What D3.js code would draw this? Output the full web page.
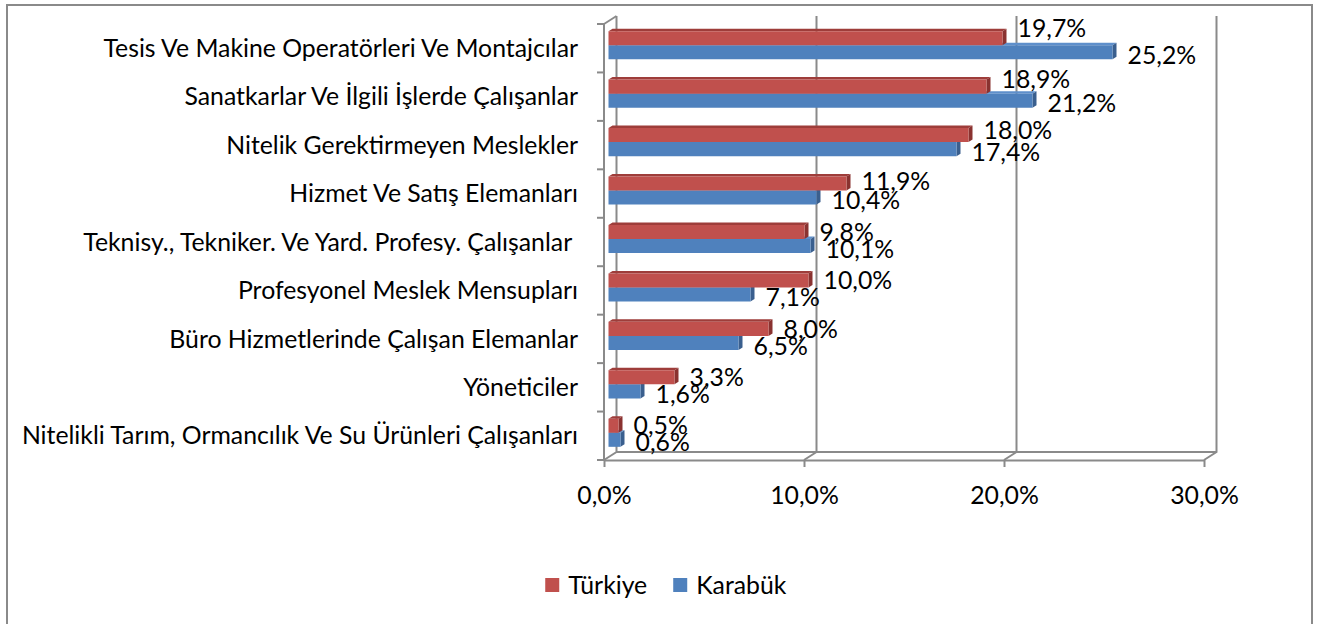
<!DOCTYPE html>
<html>
<head>
<meta charset="utf-8">
<script src="https://cdn.jsdelivr.net/npm/d3@7"></script>
<style>
  body { margin: 0; background: #fff; }
  svg { display: block; font-family: Lato, "Open Sans", sans-serif; }
</style>
</head>
<body>
<div id="chart"></div>
<script>
// categories, top to bottom
var categories = [
  "Tesis Ve Makine Operatörleri Ve Montajcılar",
  "Sanatkarlar Ve İlgili İşlerde Çalışanlar",
  "Nitelik Gerektirmeyen Meslekler",
  "Hizmet Ve Satış Elemanları",
  "Teknisy., Tekniker. Ve Yard. Profesy. Çalışanlar ",
  "Profesyonel Meslek Mensupları",
  "Büro Hizmetlerinde Çalışan Elemanlar",
  "Yöneticiler",
  "Nitelikli Tarım, Ormancılık Ve Su Ürünleri Çalışanları"
];
var series = ["Türkiye", "Karabük"];
var turkiye = [19.7, 18.9, 18.0, 11.9, 9.8, 10.0, 8.0, 3.3, 0.5];
var karabuk = [25.2, 21.2, 17.4, 10.4, 10.1, 7.1, 6.5, 1.6, 0.6];
var xTicks = [0, 10, 20, 30];

var width = 1317, height = 624;
var fontSize = 24.8;
var gridColor = "#8a8a8a";

// colours: front, top, side
var colors = {
  "Türkiye": {front: "#C0504D", top: "#9E3D3A", side: "#8A3230"},
  "Karabük": {front: "#4F81BD", top: "#5E8FCB", side: "#3A5F8E"}
};

// 3d depth of the box and of the bars
var depth = {dx: 12.5, dy: 8};
var barOff = {dx: 4.5, dy: 3};
var barDepth = {dx: 4, dy: 2.5};

var fmt = function(v) { return v.toFixed(1).replace(".", ",") + "%"; };

var svg = d3.select("#chart").append("svg")
    .attr("width", width)
    .attr("height", height);

// outer frame
svg.append("rect")
    .attr("x", 7).attr("y", 5)
    .attr("width", 1305).attr("height", 640)
    .attr("fill", "#fff")
    .attr("stroke", gridColor)
    .attr("stroke-width", 2);

var x = d3.scaleLinear().domain([0, 30]).range([604, 1204]);
var y = d3.scaleBand().domain(categories).range([24, 460])
    .paddingInner(0.42).paddingOuter(0.21);
var ySub = d3.scaleBand().domain(series).range([0, y.bandwidth()]);

var yTop = y.range()[0], yBot = y.range()[1];

// walls and floor
var walls = svg.append("g")
    .attr("stroke", gridColor)
    .attr("stroke-width", 2)
    .attr("fill", "none");

// back wall gridlines + floor diagonals
walls.selectAll(".grid")
  .data(xTicks)
  .join("path")
    .attr("class", "grid")
    .attr("d", function(v) {
      return "M" + x(v) + "," + yBot +
        "L" + (x(v) + depth.dx) + "," + (yBot - depth.dy) +
        "L" + (x(v) + depth.dx) + "," + (yTop - depth.dy);
    });

// back floor edge
walls.append("line")
    .attr("x1", x(0) + depth.dx).attr("x2", x(30) + depth.dx)
    .attr("y1", yBot - depth.dy).attr("y2", yBot - depth.dy);

// left wall top diagonal
walls.append("line")
    .attr("x1", x(0)).attr("y1", yTop)
    .attr("x2", x(0) + depth.dx).attr("y2", yTop - depth.dy);

// bottom axis
var xAxis = svg.append("g")
    .attr("transform", "translate(0," + yBot + ")")
    .call(d3.axisBottom(x).tickValues(xTicks).tickFormat(fmt).tickSize(7).tickSizeOuter(0));
xAxis.select(".domain").attr("stroke", gridColor).attr("stroke-width", 2);
xAxis.selectAll(".tick line").attr("stroke", gridColor).attr("stroke-width", 2);
xAxis.selectAll(".tick text")
    .attr("y", 35).attr("dy", "0.35em")
    .attr("font-size", fontSize)
    .attr("font-family", "Lato, sans-serif")
    .attr("fill", "#000");

// left axis
var leftAxis = svg.append("g")
    .attr("stroke", gridColor)
    .attr("stroke-width", 2);
leftAxis.append("line")
    .attr("x1", x(0)).attr("x2", x(0))
    .attr("y1", yTop).attr("y2", yBot);
leftAxis.selectAll(".ltick")
  .data(d3.range(categories.length + 1))
  .join("line")
    .attr("class", "ltick")
    .attr("x1", x(0) - 7).attr("x2", x(0))
    .attr("y1", function(i) { return yTop + i * y.step(); })
    .attr("y2", function(i) { return yTop + i * y.step(); });

// category labels
svg.append("g").selectAll("text")
  .data(categories)
  .join("text")
    .attr("x", 578)
    .attr("y", function(d) { return y(d) + y.bandwidth() / 2; })
    .attr("dy", "0.35em")
    .attr("text-anchor", "end")
    .attr("font-size", fontSize)
    .style("white-space", "pre")
    .text(function(d) { return d; });

// bars
var rows = categories.map(function(c, i) {
  return {cat: c, i: i, vals: [
    {s: "Karabük", v: karabuk[i]},
    {s: "Türkiye", v: turkiye[i]}
  ]};
});

function barPaths(c, d) {
  var x0 = x(0) + barOff.dx, x1 = x(d.v) + barOff.dx;
  var y0 = y(c) + ySub(d.s) - barOff.dy, y1 = y0 + ySub.bandwidth();
  var bx = barDepth.dx, by = barDepth.dy;
  return {
    front: "M" + x0 + "," + y0 + "H" + x1 + "V" + y1 + "H" + x0 + "Z",
    top: "M" + x0 + "," + y0 + "L" + (x0 + bx) + "," + (y0 - by) +
         "H" + (x1 + bx) + "L" + x1 + "," + y0 + "Z",
    side: "M" + x1 + "," + y0 + "L" + (x1 + bx) + "," + (y0 - by) +
          "V" + (y1 - by) + "L" + x1 + "," + y1 + "Z"
  };
}

var barG = svg.append("g");
rows.forEach(function(r) {
  r.vals.forEach(function(d) {
    var p = barPaths(r.cat, d);
    var g = barG.append("g");
    g.append("path").attr("d", p.top).attr("fill", colors[d.s].top);
    g.append("path").attr("d", p.side).attr("fill", colors[d.s].side);
    g.append("path").attr("d", p.front).attr("fill", colors[d.s].front);
  });
});

// data labels
var labels = [];
categories.forEach(function(c, i) {
  labels.push({c: c, s: "Türkiye", v: turkiye[i], shift: Math.min(0, -10 + 2.5 * i)});
  labels.push({c: c, s: "Karabük", v: karabuk[i], shift: 3});
});
svg.append("g").selectAll("text")
  .data(labels)
  .join("text")
    .attr("x", function(d) { return x(d.v) + barOff.dx + 15; })
    .attr("y", function(d) {
      return y(d.c) + ySub(d.s) + ySub.bandwidth() / 2 - barOff.dy + d.shift;
    })
    .attr("dy", "0.35em")
    .attr("font-size", fontSize)
    .text(function(d) { return fmt(d.v); });

// legend
var legend = svg.append("g");
var items = legend.selectAll("g")
  .data(series)
  .join("g");
items.append("rect")
    .attr("width", 14).attr("height", 14)
    .attr("y", -7)
    .attr("fill", function(d) { return colors[d].front; });
items.append("text")
    .attr("x", 23)
    .attr("dy", "0.35em")
    .attr("font-size", fontSize)
    .text(function(d) { return d; });

var lx = 0;
items.each(function() {
  var w = this.getBBox().width;
  d3.select(this).attr("transform", "translate(" + lx + ",0)");
  lx += w + 26;
});
lx -= 26;
legend.attr("transform", "translate(" + (666 - lx / 2) + ",585)");
</script>
</body>
</html>
